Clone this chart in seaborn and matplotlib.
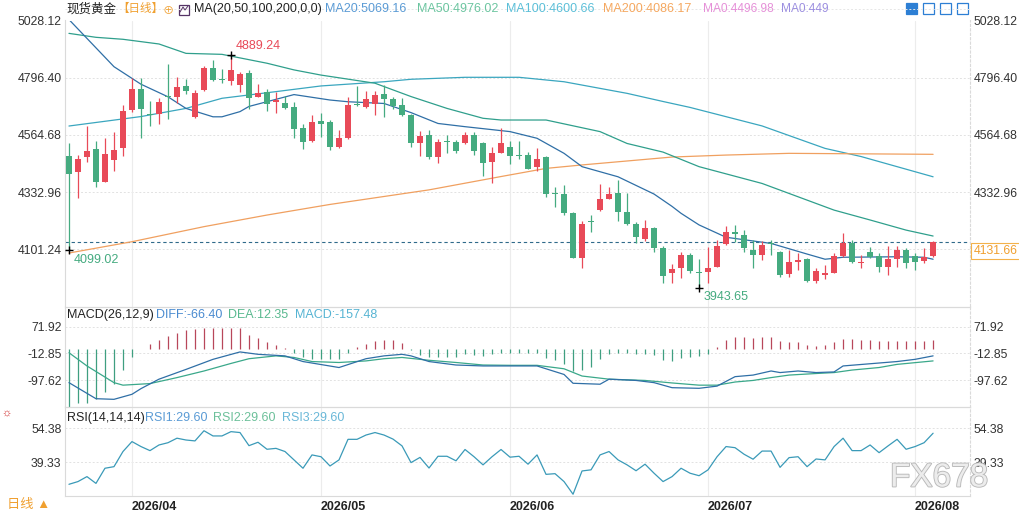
import matplotlib
matplotlib.use("Agg")
import numpy as np
import matplotlib.pyplot as plt
import matplotlib.patheffects as pe
import matplotlib.transforms as mtransforms
from matplotlib.patches import Rectangle
from matplotlib.lines import Line2D
import seaborn as sns

# ---------------- data ----------------
opens = [4479, 4416, 4474, 4508, 4375, 4463, 4510, 4666, 4751, 4649,
         4648, 4721, 4720, 4763, 4636, 4745, 4834, 4788, 4784, 4765,
         4814, 4720, 4738, 4698, 4693, 4676, 4593, 4541, 4621, 4617,
         4514, 4551, 4689, 4676, 4690, 4730, 4709, 4684, 4644, 4533,
         4563, 4477, 4539, 4535, 4531, 4564, 4533, 4456, 4493, 4514,
         4485, 4483, 4436, 4474, 4328, 4325, 4250, 4067, 4215, 4260,
         4306, 4329, 4254, 4204, 4143, 4186, 4107, 4004, 4024, 4078,
         4011, 4011, 4031, 4121, 4170, 4159, 4098, 4077, 4128, 4092,
         4001, 4048, 4061, 3974, 3997, 4007, 4074, 4128, 4044, 4089,
         4074, 4028, 4061, 4098, 4075, 4055, 4074]
highs = [4530, 4483, 4601, 4540, 4553, 4576, 4686, 4794, 4794, 4702,
         4713, 4853, 4798, 4792, 4747, 4844, 4868, 4833, 4889.24, 4821,
         4828, 4770, 4749, 4740, 4722, 4697, 4608, 4645, 4655, 4625,
         4585, 4717, 4763, 4744, 4744, 4767, 4720, 4713, 4648, 4581,
         4585, 4549, 4564, 4544, 4575, 4575, 4537, 4517, 4591, 4541,
         4541, 4497, 4510, 4479, 4355, 4362, 4254, 4216, 4240, 4364,
         4355, 4382, 4328, 4213, 4220, 4193, 4115, 4042, 4092, 4085,
         4061, 4112, 4139, 4196, 4200, 4179, 4139, 4136, 4139, 4096,
         4098, 4085, 4065, 4024, 4038, 4085, 4166, 4139, 4078, 4112,
         4085, 4115, 4116, 4105, 4085, 4105, 4136]
lows = [4099.02, 4308, 4456, 4352, 4373, 4420, 4481, 4659, 4553, 4601,
        4608, 4628, 4695, 4730, 4633, 4743, 4783, 4774, 4768, 4737,
        4668, 4717, 4663, 4655, 4668, 4551, 4509, 4535, 4558, 4504,
        4510, 4547, 4682, 4672, 4645, 4639, 4668, 4641, 4514, 4481,
        4466, 4452, 4490, 4493, 4528, 4483, 4398, 4369, 4490, 4447,
        4466, 4425, 4420, 4314, 4271, 4240, 4065, 4024, 4170, 4258,
        4304, 4215, 4200, 4128, 4135, 4092, 3963, 3963, 3984, 4004,
        3943.65, 3963, 4028, 4119, 4132, 4092, 4024, 4058, 4078, 3990,
        3990, 4017, 3970, 3963, 3980, 4004, 4071, 4044, 4024, 4065,
        4011, 3997, 4031, 4024, 4017, 4047, 4071]
closes = [4405, 4466, 4499, 4375, 4487, 4504, 4662, 4751, 4671, 4645,
          4698, 4717, 4759, 4744, 4734, 4834, 4786, 4786, 4826, 4811,
          4716, 4733, 4690, 4705, 4675, 4590, 4537, 4616, 4610, 4517,
          4553, 4684, 4684, 4710, 4725, 4709, 4682, 4645, 4533, 4559,
          4477, 4535, 4536, 4501, 4563, 4501, 4452, 4490, 4531, 4481,
          4481, 4427, 4466, 4324, 4325, 4247, 4067, 4204, 4212, 4304,
          4325, 4254, 4204, 4152, 4186, 4107, 3993, 4020, 4077, 4015,
          4005, 4024, 4116, 4170, 4162, 4105, 4077, 4119, 4123, 3997,
          4048, 4058, 3974, 4015, 4007, 4074, 4128, 4051, 4051, 4069,
          4028, 4061, 4098, 4044, 4051, 4071, 4131.66]

ma20_x = [0, 5, 8, 11, 13, 16, 17, 19, 20, 25, 29, 31, 35, 38, 41, 44, 49, 52, 55, 57,
          61, 65, 67, 68, 70, 73, 75, 78, 82, 84, 86, 92, 95, 96]
ma20_y = [5032, 4841, 4770, 4719, 4672, 4638, 4638, 4659, 4680, 4728, 4706, 4699, 4692, 4655,
          4611, 4598, 4578, 4551, 4490, 4436, 4395, 4325, 4275, 4247, 4200, 4150, 4140, 4125,
          4082, 4061, 4069, 4071, 4069, 4061]
ma50_x = [0, 3, 6, 10, 13, 17, 22, 25, 28, 34, 38, 42, 46, 48, 53, 59, 62, 66, 70, 77,
          81, 85, 89, 93, 96]
ma50_y = [4976, 4960, 4952, 4933, 4895, 4891, 4855, 4828, 4807, 4774, 4720, 4672, 4632, 4625,
          4625, 4578, 4530, 4495, 4436, 4368, 4314, 4260, 4220, 4179, 4155]
ma100_x = [0, 8, 13, 17, 23, 28, 35, 38, 44, 50, 55, 62, 66, 69, 77, 84, 88, 92, 96]
ma100_y = [4600.66, 4639, 4672, 4713, 4740, 4763, 4780, 4790, 4798, 4798, 4780, 4733, 4700,
           4676, 4601, 4510, 4477, 4436, 4395]
ma200_x = [0, 7, 15, 22, 29, 40, 48, 53, 57, 67, 73, 80, 96]
ma200_y = [4086.17, 4132, 4193, 4240, 4283, 4342, 4396, 4429, 4443, 4475, 4483, 4490, 4486]

macd_hist = [-185, -170, -170, -159, -136, -111, -66, -23, 1, 16,
             30, 42, 53, 61, 64, 66, 66, 66, 66, 66,
             46, 35, 23, 13, 5, -11, -26, -30, -32, -32,
             -32, -11, 7, 16, 27, 30, 30, 21, -1, -17,
             -25, -25, -25, -24, -16, -19, -20, -16, -13, -11,
             -11, -12, -13, -28, -34, -47, -68, -67, -55, -32,
             -14, -12, -12, -14, -14, -17, -34, -37, -27, -24,
             -22, -14, 8, 28, 40, 40, 37, 40, 40, 25,
             24, 24, 13, 11, 15, 22, 33, 33, 30, 28,
             25, 26, 26, 25, 25, 25, 30]
diff_x = [0, 3, 5, 7, 8, 10, 13, 16, 19, 21, 24, 26, 30, 33, 35, 37, 38, 40, 43, 46, 52,
          55, 56, 59, 60, 63, 65, 67, 70, 72, 74, 76, 78, 79, 81, 83, 85, 86, 89, 92, 94, 96]
diff_y = [-106, -157, -159, -143, -125, -95, -64, -32, -8.5, -16, -21, -39, -58, -30, -21,
          -16, -21, -39, -50, -53, -53, -80, -108, -111, -95, -99, -106, -122, -124, -117,
          -87, -82, -69, -74, -69, -74, -72, -53, -46, -39, -32, -21]
dea_x = [0, 2, 5, 6, 9, 12, 15, 18, 20, 23, 25, 27, 30, 33, 35, 37, 40, 43, 46, 49, 52,
         55, 57, 60, 64, 67, 70, 72, 74, 76, 78, 80, 83, 85, 87, 90, 92, 96]
dea_y = [-11, -53, -106, -114, -109, -90, -69, -45, -30, -21, -26, -39, -42, -37, -30, -26,
         -35, -42, -50, -51, -51, -62, -85, -95, -99, -107, -114, -114, -104, -99, -90, -82,
         -77, -74, -66, -58, -48, -37]

rsi_vals = [29.6, 30.8, 33.0, 30.0, 36.7, 37.4, 44.1, 48.5, 46.3, 44.5,
            47.0, 48.0, 50.0, 49.2, 48.8, 53.3, 51.0, 51.0, 52.9, 52.5,
            46.7, 48.2, 45.1, 45.5, 44.1, 40.4, 36.7, 42.6, 41.8, 37.7,
            40.4, 49.5, 49.5, 51.4, 52.5, 51.4, 49.6, 46.6, 39.2, 41.5,
            36.8, 42.0, 42.0, 40.0, 45.0, 41.8, 38.2, 41.8, 45.0, 41.6,
            42.0, 38.5, 42.6, 34.0, 34.3, 30.8, 25.2, 35.5, 36.0, 42.6,
            44.1, 40.4, 38.2, 35.6, 38.5, 34.5, 30.8, 33.0, 36.7, 34.5,
            33.4, 36.0, 41.8, 46.3, 45.8, 42.9, 40.7, 44.3, 44.3, 37.1,
            41.4, 41.8, 37.4, 40.8, 40.4, 46.3, 50.0, 44.5, 44.5, 47.0,
            43.6, 46.6, 49.5, 45.1, 46.3, 48.0, 52.2]

price_ticks = [5028.12, 4796.40, 4564.68, 4332.96, 4101.24]
macd_ticks = [71.92, -12.85, -97.62]
rsi_ticks = [54.38, 39.33]
month_idx = [7, 28, 49, 71, 94]
month_labels = ["2026/04", "2026/05", "2026/06", "2026/07", "2026/08"]
last_price = 4131.66

# ---------------- styling ----------------
RED = "#e84a58"
GREEN = "#45ab80"
C_MA20 = "#2f6fa6"
C_MA50 = "#2f9f8c"
C_MA100 = "#3aa6bf"
C_MA200 = "#f0a060"

sns.set_style("white")
plt.rcParams["font.family"] = ["Liberation Sans", "Noto Sans CJK SC", "DejaVu Sans"]
plt.rcParams["axes.unicode_minus"] = False

W, H = 1019, 513
fig = plt.figure(figsize=(W / 100, H / 100), dpi=100)


def fx(x):
    return x / W


def fy(y):
    return 1 - y / H


def panel(y0, y1):
    return fig.add_axes([fx(65), fy(y1), (970 - 65) / W, (y1 - y0) / H])


ax = panel(20.5, 306.5)
ax_macd = panel(306.5, 406.7)
ax_rsi = panel(406.7, 495.7)

# ---- main candles ----
idx = np.arange(len(closes))
o, h, l, c = (np.array(v, dtype=float) for v in (opens, highs, lows, closes))
col = np.where(c >= o, RED, GREEN)
ax.vlines(idx, l, h, colors=col, lw=0.9, zorder=3)
body_lo = np.minimum(o, c)
body_h = np.maximum(np.abs(c - o), 4)
ax.bar(idx, body_h, bottom=body_lo, width=0.7, color=col, lw=0, zorder=4)

for xs, ys, cc in [(ma100_x, ma100_y, C_MA100), (ma200_x, ma200_y, C_MA200),
                   (ma50_x, ma50_y, C_MA50), (ma20_x, ma20_y, C_MA20)]:
    sns.lineplot(x=xs, y=ys, ax=ax, color=cc, lw=0.9, legend=False, zorder=2)

ax.axhline(last_price, color="#2f6a8a", lw=0.8, ls=(0, (3, 2.5)), zorder=1)
trans = mtransforms.blended_transform_factory(ax.transAxes, ax.transData)
ax.annotate(f"{last_price:.2f}", xy=(1.0, last_price), xycoords=trans, xytext=(2.5, -2.5),
            textcoords="offset points", ha="left", va="top", color="#f0a030", fontsize=8.8,
            bbox=dict(boxstyle="square,pad=0.18", fc="white", ec="#f3b24a", lw=0.8),
            annotation_clip=False)

# high / low marks
i_hi = int(np.argmax(h))
i_lo = int(np.argmin(l))
marks = [(i_hi, h[i_hi], RED, 6), (0, l[0], GREEN, -7), (i_lo, l[i_lo], GREEN, -6)]
for i, v, cc, dy in marks:
    ax.plot(i, v, marker="+", ms=6, mew=1.0, color="black", zorder=5)
    ax.annotate(f"{v:.2f}", xy=(i, v), xytext=(3.5, dy), textcoords="offset points",
                ha="left", va="center", color=cc, fontsize=9)

# ---- MACD ----
hist = np.array(macd_hist, dtype=float)
ax_macd.vlines(idx, 0, hist, colors=np.where(hist > 0, "#b8475a", "#3f9f80"), lw=0.9, zorder=2)
sns.lineplot(x=dea_x, y=dea_y, ax=ax_macd, color="#3aa88a", lw=0.9, legend=False, zorder=3)
sns.lineplot(x=diff_x, y=diff_y, ax=ax_macd, color="#2f6fa6", lw=0.9, legend=False, zorder=3)

# ---- RSI ----
sns.lineplot(x=idx, y=rsi_vals, ax=ax_rsi, color="#3a9ab8", lw=0.9, legend=False, zorder=3)

# ---- axes dressing ----
for a, ticks, lim in [(ax, price_ticks, (3869.52, 5028.12)),
                      (ax_macd, macd_ticks, (-182.4, 135.8)),
                      (ax_rsi, rsi_ticks, (24.55, 63.94))]:
    a.set_xlim(-0.44, 100.1)
    a.set_ylim(*lim)
    a.set_yticks(ticks)
    a.set_yticklabels([f"{t:.2f}" for t in ticks])
    a.tick_params(axis="y", left=False, right=False, labelleft=True, labelright=True,
                  length=0, labelsize=8.8, labelcolor="#333333", pad=2.5)
    a.set_xlabel("")
    a.set_ylabel("")
    for t in ticks:
        a.axhline(t, color="#e2e2e2", lw=0.7, ls=(0, (2, 2)), zorder=0)
    for m in month_idx:
        a.axvline(m, color="#ececec", lw=0.8, zorder=0)
    for s in a.spines.values():
        s.set_color("#dadada")
        s.set_linewidth(0.8)
    a.spines["right"].set_linestyle((0, (2, 2)))
    a.patch.set_alpha(0)

ax.spines["top"].set_visible(False)
ax.set_xticks([])
ax_macd.set_xticks([])
ax_rsi.set_xticks(month_idx)
ax_rsi.set_xticklabels(month_labels, fontsize=9, fontweight="bold", color="#222222")
for lab in ax_rsi.get_xticklabels():
    lab.set_ha("left")
ax_rsi.tick_params(axis="x", bottom=False, length=0, pad=4)

fig.add_artist(Line2D([fx(65), fx(970)], [fy(9), fy(9)], color="#e6e6e6", lw=0.7,
                      ls=(0, (2, 2))))

# ---- header texts ----
def ftxt(x, y, s, color="#222222", size=9, **kw):
    fig.text(fx(x), fy(y), s, color=color, fontsize=size, ha="left", va="center", **kw)


ftxt(66, 9, "现货黄金", size=9)
ftxt(117, 9, "【日线】", color="#f0a030", size=8.3)
ftxt(163, 10, "⊕", color="#f0a030", size=8)
fig.add_artist(Rectangle((fx(179), fy(15)), 10 / W, 10 / H, fill=False, ec="#553366", lw=0.9))
fig.add_artist(Line2D([fx(180), fx(183), fx(185), fx(188)], [fy(12), fy(7), fy(10), fy(6)],
                      color="#553366", lw=0.7))
ftxt(194, 9, "MA(20,50,100,200,0,0)")
ftxt(325, 9, "MA20:5069.16", color="#5b9bd5")
ftxt(417, 9, "MA50:4976.02", color="#6cc5a0")
ftxt(506, 9, "MA100:4600.66", color="#5cbfd8")
ftxt(603, 9, "MA200:4086.17", color="#f5a860")
ftxt(703, 9, "MA0:4496.98", color="#e590d8", size=8.6)
ftxt(781, 9, "MA0:449", color="#9c8fe0", size=8.6)

for k, x0 in enumerate([906, 923, 940, 957]):
    fig.add_artist(Rectangle((fx(x0), fy(14)), 11 / W, 11 / H,
                             fc="#2d7fd4" if k == 0 else "white", ec="#2d7fd4", lw=0.9))

ftxt(67, 315, "MACD(26,12,9)")
ftxt(156, 315, "DIFF:-66.40", color="#4a8bd0")
ftxt(228, 315, "DEA:12.35", color="#59b98f")
ftxt(295, 315, "MACD:-157.48", color="#56b4d3")

ftxt(67, 418, "RSI(14,14,14)")
ftxt(145, 418, "RSI1:29.60", color="#5a9bd5")
ftxt(213, 418, "RSI2:29.60", color="#6cc09a")
ftxt(282, 418, "RSI3:29.60", color="#6ab8d8")

ftxt(1, 413, "☼", color="#d03030", size=8)
ftxt(7, 505, "日线 ▲", color="#f0a030", size=9.5)

fig.text(fx(890), fy(478), "FX678", fontsize=24, color="#ececec", ha="left", va="center",
         path_effects=[pe.withStroke(linewidth=1.3, foreground="#b9b9b9")], zorder=10)

fig.savefig("out.png", dpi=100)
